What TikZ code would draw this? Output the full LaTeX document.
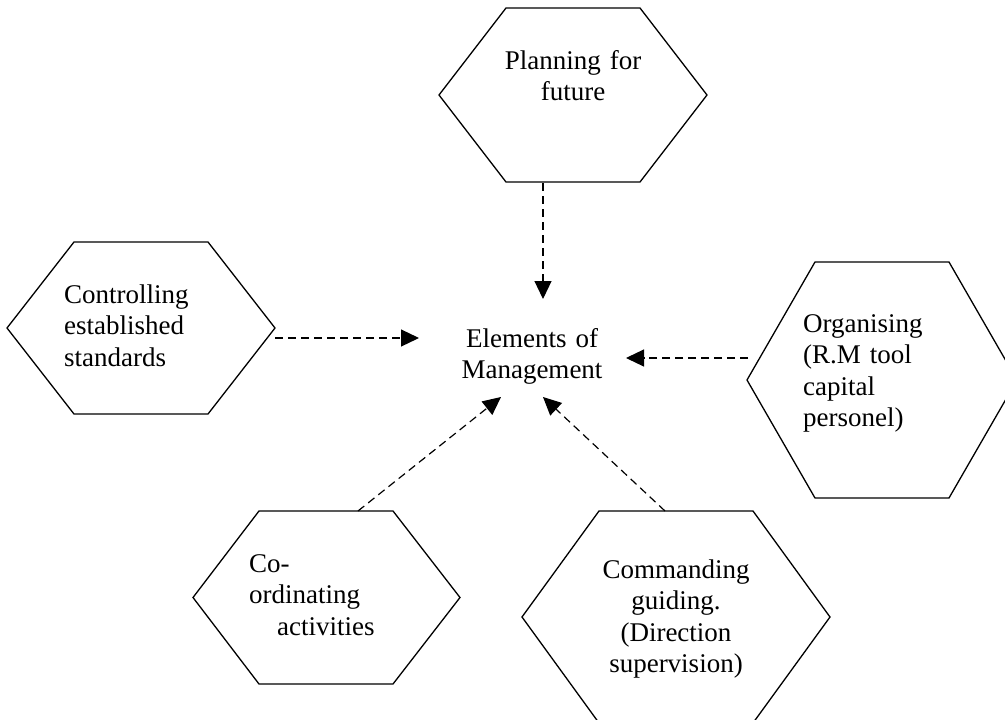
\documentclass[tikz,border=0pt]{standalone}
\usepackage{fontspec}
\setmainfont{Liberation Serif}
\usetikzlibrary{arrows.meta}

\tikzset{
  hexline/.style={line width=1.3pt, line join=miter},
  boxtext/.style={inner sep=0pt, font=\fontsize{27}{31.5}\selectfont},
  flow/.style={line width=1.2pt, dash pattern=on 8pt off 5pt,
               -{Triangle[length=18pt,width=17pt]}},
}

% flat-topped hexagon: left x, inner left x, inner right x, right x, top y, bottom y
\newcommand\hexoutline[6]{%
  \draw[hexline] (#1,{(#5+#6)/2}) -- (#2,#5) -- (#3,#5) -- (#4,{(#5+#6)/2})
    -- (#3,#6) -- (#2,#6) -- cycle;}

\begin{document}
\begin{tikzpicture}[x=1pt,y=-1pt]
  \useasboundingbox (0,0) rectangle (1005,720);
  \clip (0,0) rectangle (1005,720);

  % the five elements around the hub
  \hexoutline{439}{506}{640}{707}{8}{182}
  \hexoutline{7}{74}{208}{275}{242}{414}
  \hexoutline{747}{815}{949}{1017}{262}{498}
  \hexoutline{193}{259}{393}{460}{511}{684}
  \hexoutline{522}{599}{753}{830}{511}{723}

  \node[boxtext, anchor=base, text width=220pt, align=center] (plan) at (573,69)
    {Planning for\\future};
  \node[boxtext, anchor=base west, text width=180pt, align=left] (ctrl) at (64,303)
    {Controlling\\established\\standards};
  \node[boxtext, anchor=base west, text width=180pt, align=left] (org) at (803,332)
    {Organising\\(R.M tool\\capital\\personel)};
  \node[boxtext, anchor=base west, text width=180pt, align=left] (coord) at (249,572)
    {Co-\\ordinating\\\hspace*{28pt}activities};
  \node[boxtext, anchor=base, text width=220pt, align=center] (cmd) at (676,578)
    {Commanding\\guiding.\\(Direction\\supervision)};

  % hub
  \node[boxtext, anchor=base, text width=220pt, align=center] (hub) at (532,347)
    {Elements of\\Management};

  % connector ends
  \coordinate (plan-out)  at (543,183);
  \coordinate (hub-n)     at (543,299);
  \coordinate (ctrl-out)  at (275,338);
  \coordinate (hub-w)     at (419,338);
  \coordinate (org-out)   at (748,358);
  \coordinate (hub-e)     at (626,358);
  \coordinate (coord-out) at (358,511);
  \coordinate (hub-sw)    at (501,397);
  \coordinate (cmd-out)   at (665,511);
  \coordinate (hub-se)    at (543,397);

  \draw[flow] (plan-out)  -- (hub-n);
  \draw[flow] (ctrl-out)  -- (hub-w);
  \draw[flow] (org-out)   -- (hub-e);
  \draw[flow] (coord-out) -- (hub-sw);
  \draw[flow] (cmd-out)   -- (hub-se);
\end{tikzpicture}
\end{document}
